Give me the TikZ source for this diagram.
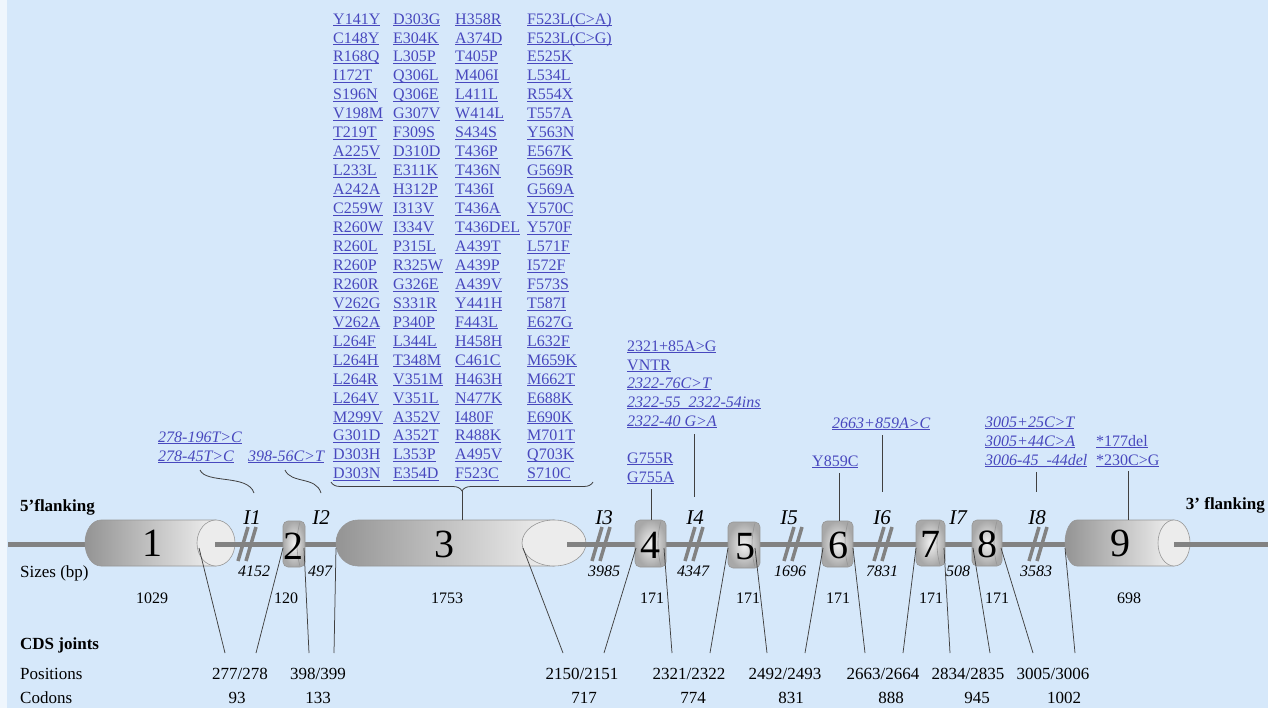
\documentclass[tikz,border=0pt]{standalone}
\usepackage{fontspec}
\setmainfont{Liberation Serif}
\usetikzlibrary{decorations.pathreplacing}
\definecolor{bg}{RGB}{214,232,250}
\definecolor{mut}{RGB}{72,72,190}
\definecolor{gline}{RGB}{130,130,130}
\definecolor{edge}{RGB}{150,150,150}
\definecolor{face}{RGB}{236,236,236}
\newcommand\mutu[1]{\underline{\smash{#1}}}
\begin{document}
\begin{tikzpicture}[x=1pt,y=-1pt,
  mutt/.style={font=\fontsize{16}{18}\selectfont, text=mut, inner sep=0pt, anchor=mid west, yshift=-3.8pt},
  muti/.style={mutt, font=\fontsize{16}{18}\selectfont\itshape},
  exnum/.style={font=\fontsize{40}{40}\selectfont, inner sep=0pt, anchor=mid, yshift=-10pt},
  ilab/.style={font=\fontsize{21}{21}\selectfont\itshape, inner sep=0pt, anchor=mid, yshift=-5pt},
  isz/.style={font=\fontsize{16}{16}\selectfont\itshape, inner sep=0pt, anchor=mid, yshift=-3.6pt},
  sz/.style={font=\fontsize{16}{16}\selectfont, inner sep=0pt, anchor=mid, yshift=-3.6pt},
  posl/.style={font=\fontsize{17}{17}\selectfont, inner sep=0pt, anchor=mid, yshift=-3.8pt},
  hd/.style={font=\fontsize{17}{17}\selectfont\bfseries, inner sep=0pt, yshift=-3.8pt},
  rowlab/.style={font=\fontsize{17}{17}\selectfont, inner sep=0pt, anchor=mid west, yshift=-3.8pt},
  mainline/.style={draw=gline, line width=5pt},
  brk/.style={draw=gline, line width=3.5pt},
  joint/.style={draw=black!75, line width=0.75pt},
  link/.style={draw=black!75, line width=0.8pt},
  cylbody/.style={left color=black!42, right color=black!6, draw=edge, line width=0.6pt},
  cylface/.style={fill=face, draw=edge, line width=0.6pt},
  smallex/.style={inner color=black!5, outer color=black!34, draw=edge, line width=0.6pt, rounded corners=5pt}
]
\useasboundingbox (0,0) rectangle (1268,708);
\fill[bg] (0,0) rectangle (1268,708);
\fill[white!60!bg] (0,0) rectangle (7,708);

% main line
\draw[mainline] (8,544) -- (1268,544);

% exon 1
\shade[cylbody] (216,520) -- (101,520) arc[start angle=270, end angle=90, x radius=16, y radius=23] -- (216,566) -- cycle;
\filldraw[cylface] (216,543) ellipse [x radius=19, y radius=23];
\draw[mainline] (215,544) -- (240,544);
% exon 3
\shade[cylbody] (554,520) -- (358,520) arc[start angle=270, end angle=90, x radius=22, y radius=23] -- (554,566) -- cycle;
\filldraw[cylface] (554,543) ellipse [x radius=32, y radius=23];
\draw[mainline] (567,544) -- (592,544);
% exon 9
\shade[cylbody] (1174,520) -- (1077,520) arc[start angle=270, end angle=90, x radius=12, y radius=23] -- (1174,566) -- cycle;
\filldraw[cylface] (1174,543) ellipse [x radius=16, y radius=23];
\draw[mainline] (1174,544) -- (1268,544);

% small exons
\foreach \xl/\xr/\yt/\yb in {283/305/521/567, 635/666/520/567, 728/760/522/568, 822/853/521/567, 916/945/520/566, 972/1002/520/566}{
  \shade[smallex] (\xl,\yt) rectangle (\xr,\yb);
  \draw[edge, line width=0.6pt] (\xr-5,\yt+1) .. controls (\xr-9,\yt+14) and (\xr-9,\yb-14) .. (\xr-5,\yb-1);
}

% intron breaks
\foreach \c in {246,600,693,792,882,1037}{
  \draw[brk] (\c-8,561) -- (\c+2,527);
  \draw[brk] (\c,561) -- (\c+10,527);
}

% exon numbers
\node[exnum] (n1) at (152,544) {1};
\node[exnum] (n2) at (293,547) {2};
\node[exnum] (n3) at (444,545) {3};
\node[exnum] (n4) at (650,546) {4};
\node[exnum] (n5) at (745,547) {5};
\node[exnum] (n6) at (838,546) {6};
\node[exnum] (n7) at (930,545) {7};
\node[exnum] (n8) at (987,545) {8};
\node[exnum] (n9) at (1120,544) {9};

% intron labels
\foreach \x/\t [count=\i] in {252/I1, 321/I2, 604/I3, 695/I4, 789/I5, 882/I6, 958/I7, 1037/I8}
  \node[ilab] (il\i) at (\x,517) {\t};
\foreach \x/\t [count=\i] in {254/4152, 320/497, 604/3985, 693/4347, 790/1696, 882/7831, 958/508, 1036/3583}
  \node[isz] (is\i) at (\x,571) {\t};

% side labels
\node[hd, anchor=mid west] (fl5) at (20,505) {5’flanking};
\node[hd, anchor=mid east] (fl3) at (1265,503) {3’ flanking};
\node[rowlab] (sizes) at (20,571) {Sizes (bp)};
\node[hd, anchor=mid west] (cds) at (20,643) {CDS joints};
\node[rowlab] (posn) at (20,673) {Positions};
\node[rowlab] (codl) at (20,697) {Codons};

% exon sizes
\foreach \x/\t [count=\i] in {152/1029, 286/120, 447/1753, 652/171, 748/171, 838/171, 931/171, 997/171, 1129/698}
  \node[sz] (es\i) at (\x,598) {\t};

% positions and codons
\foreach \x/\t [count=\i] in {240/277\slash 278, 318/398\slash 399, 582/2150\slash 2151, 689/2321\slash 2322, 785/2492\slash 2493, 883/2663\slash 2664, 968/2834\slash 2835, 1053/3005\slash 3006}
  \node[posl] (p\i) at (\x,673) {\t};
\foreach \x/\t [count=\i] in {237/93, 318/133, 584/717, 693/774, 791/831, 891/888, 977/945, 1064/1002}
  \node[posl] (c\i) at (\x,697) {\t};

% joint connectors
\foreach \a/\b [count=\n] in {199/225, 283/256, 304/309, 336/334, 523/563, 636/604, 664/672, 728/710, 755/767, 823/805, 853/865, 916/903, 944/950, 973/990, 1001/1033, 1065/1075}{
  \coordinate (jt\n) at (\a,548);
  \coordinate (jb\n) at (\b,653);
  \draw[joint] (jt\n) -- (jb\n);
}

% exon 3 mutation list
\foreach \t [count=\i] in {Y141Y, C148Y, R168Q, I172T, S196N, V198M, T219T, A225V, L233L, A242A, C259W, R260W, R260L, R260P, R260R, V262G, V262A, L264F, L264H, L264R, L264V, M299V, G301D, D303H, D303N}
  \node[mutt] (ma\i) at (333,{18+18.95*(\i-1)}) {\mutu{\t}};
\foreach \t [count=\i] in {D303G, E304K, L305P, Q306L, Q306E, G307V, F309S, D310D, E311K, H312P, I313V, I334V, P315L, R325W, G326E, S331R, P340P, L344L, T348M, V351M, V351L, A352V, A352T, L353P, E354D}
  \node[mutt] (mb\i) at (393,{18+18.95*(\i-1)}) {\mutu{\t}};
\foreach \t [count=\i] in {H358R, A374D, T405P, M406I, L411L, W414L, S434S, T436P, T436N, T436I, T436A, T436DEL, A439T, A439P, A439V, Y441H, F443L, H458H, C461C, H463H, N477K, I480F, R488K, A495V, F523C}
  \node[mutt] (mc\i) at (455,{18+18.95*(\i-1)}) {\mutu{\t}};
\foreach \t [count=\i] in {F523L(C>A), F523L(C>G), E525K, L534L, R554X, T557A, Y563N, E567K, G569R, G569A, Y570C, Y570F, L571F, I572F, F573S, T587I, E627G, L632F, M659K, M662T, E688K, E690K, M701T, Q703K, S710C}
  \node[mutt] (md\i) at (527,{18+18.95*(\i-1)}) {\mutu{\t}};

\draw[link, decorate, decoration={brace, amplitude=9pt, mirror}] (331,482) -- (593,482);
\coordinate (b3) at (462,491);
\coordinate (e3t) at (462,520);
\draw[link] (b3) -- (e3t);

% intron 1 / 2 mutations
\node[muti] (i1a) at (158,436) {\mutu{278-196T>C}};
\node[muti] (i1b) at (158,455) {\mutu{278-45T>C}};
\node[muti] (i2a) at (248,455) {\mutu{398-56C>T}};
\coordinate (w1s) at (200,470); \coordinate (w1e) at (254,493);
\coordinate (w2s) at (285,470); \coordinate (w2e) at (321,493);
\draw[link] (w1s) .. controls (206,484) and (248,474) .. (w1e);
\draw[link] (w2s) .. controls (291,484) and (316,476) .. (w2e);

% exon 4
\node[mutt] (g1) at (627,457) {\mutu{G755R}};
\node[mutt] (g2) at (627,476) {\mutu{G755A}};
\coordinate (g4s) at (651,489); \coordinate (g4e) at (651,520);
\draw[link] (g4s) -- (g4e);

% intron 4
\node[mutt] (i4a) at (627,345) {\mutu{2321+85A>G}};
\node[mutt] (i4b) at (627,364) {\mutu{VNTR}};
\node[muti] (i4c) at (627,382) {\mutu{2322-76C>T}};
\node[muti] (i4d) at (627,401) {\mutu{2322-55\_2322-54ins}};
\node[muti] (i4e) at (627,420) {\mutu{2322-40 G>A}};
\coordinate (i4s) at (694,434); \coordinate (i4t) at (694,497);
\draw[link] (i4s) -- (i4t);

% exon 6
\node[mutt] (y6) at (812,460) {\mutu{Y859C}};
\coordinate (y6s) at (839,473); \coordinate (y6e) at (839,521);
\draw[link] (y6s) -- (y6e);

% intron 6
\node[muti] (i6a) at (832,422) {\mutu{2663+859A>C}};
\coordinate (i6s) at (882,435); \coordinate (i6e) at (882,492);
\draw[link] (i6s) -- (i6e);

% intron 8
\node[muti] (i8a) at (985,421) {\mutu{3005+25C>T}};
\node[muti] (i8b) at (985,440) {\mutu{3005+44C>A}};
\node[muti] (i8c) at (985,459) {\mutu{3006-45\_-44del}};
\coordinate (i8s) at (1036,472); \coordinate (i8e) at (1036,492);
\draw[link] (i8s) -- (i8e);

% exon 9
\node[mutt] (x9a) at (1096,440) {\mutu{*177del}};
\node[mutt] (x9b) at (1096,459) {\mutu{*230C>G}};
\coordinate (x9s) at (1128,471); \coordinate (x9e) at (1128,520);
\draw[link] (x9s) -- (x9e);
\end{tikzpicture}
\end{document}
